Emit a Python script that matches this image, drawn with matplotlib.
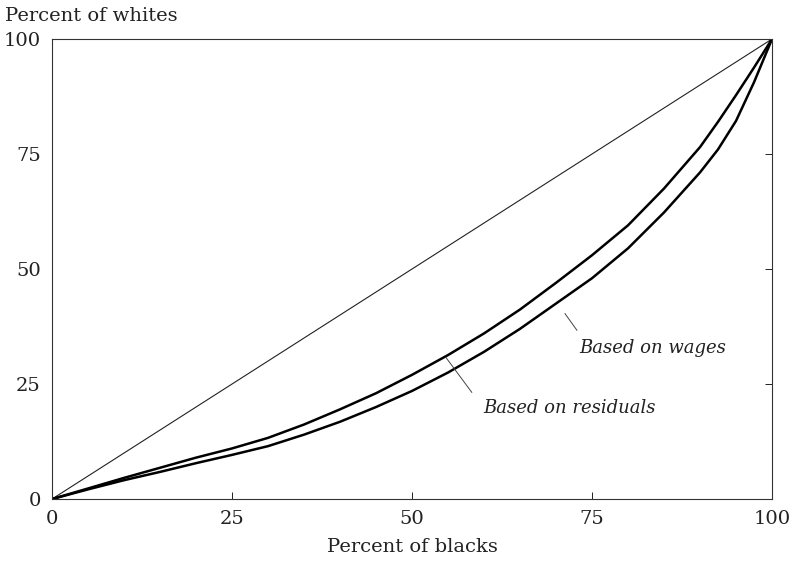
import matplotlib
matplotlib.use("Agg")
import matplotlib.pyplot as plt

plt.rcParams['font.family'] = ['DejaVu Serif', 'Liberation Serif']

pct_blacks = [0, 5, 10, 15, 20, 25, 30, 35, 40, 45, 50, 55, 60, 65, 70, 75,
              80, 85, 90, 92.5, 95, 97.5, 100]
residuals = [0, 2.3, 4.6, 6.8, 9.0, 11.0, 13.3, 16.2, 19.5, 23.0, 27.0, 31.3,
             36.0, 41.2, 47.0, 53.0, 59.5, 67.5, 76.5, 82.0, 87.8, 93.8, 100]
wages = [0, 2.1, 4.1, 5.9, 7.8, 9.6, 11.5, 14.0, 16.8, 20.0, 23.5, 27.5,
         32.0, 37.0, 42.5, 48.0, 54.5, 62.3, 71.0, 76.0, 82.2, 90.6, 100]
diag = [0, 100]
ticks = [0, 25, 50, 75, 100]

fig = plt.figure(figsize=(7.95, 5.62), dpi=100)
ax = fig.add_axes([0.0654, 0.112, 0.9057, 0.8186])

ax.plot(diag, diag, color='#222222', lw=0.8)
ax.plot(pct_blacks, residuals, color='black', lw=1.8, solid_joinstyle='round')
ax.plot(pct_blacks, wages, color='black', lw=1.8, solid_joinstyle='round')

ax.plot([71.25, 72.9], [40.3, 36.7], color='#444444', lw=0.7)
ax.plot([54.7, 58.3], [30.8, 23.2], color='#444444', lw=0.7)
ax.text(73.3, 32.8, 'Based on wages', style='italic', fontsize=13, va='center', ha='left', color='#222222')
ax.text(59.9, 19.7, 'Based on residuals', style='italic', fontsize=13, va='center', ha='left', color='#222222')

ax.set_xlim(0, 100)
ax.set_ylim(0, 100)
ax.set_xticks(ticks)
ax.set_yticks(ticks)
ax.set_xticklabels([str(t) for t in ticks])
ax.set_yticklabels([str(t) for t in ticks])
ax.tick_params(axis='both', direction='in', length=5, width=0.7, labelsize=14,
               colors='#222222')
ax.tick_params(axis='x', pad=8)
ax.tick_params(axis='y', pad=8, left=False, right=True)
for s in ax.spines.values():
    s.set_linewidth(0.8)
    s.set_color('#333333')

ax.set_xlabel('Percent of blacks', fontsize=14, color='#222222', labelpad=7)
fig.text(0.006, 0.972, 'Percent of whites', fontsize=14, color='#222222', va='center', ha='left')

fig.savefig('out.png', dpi=100)
